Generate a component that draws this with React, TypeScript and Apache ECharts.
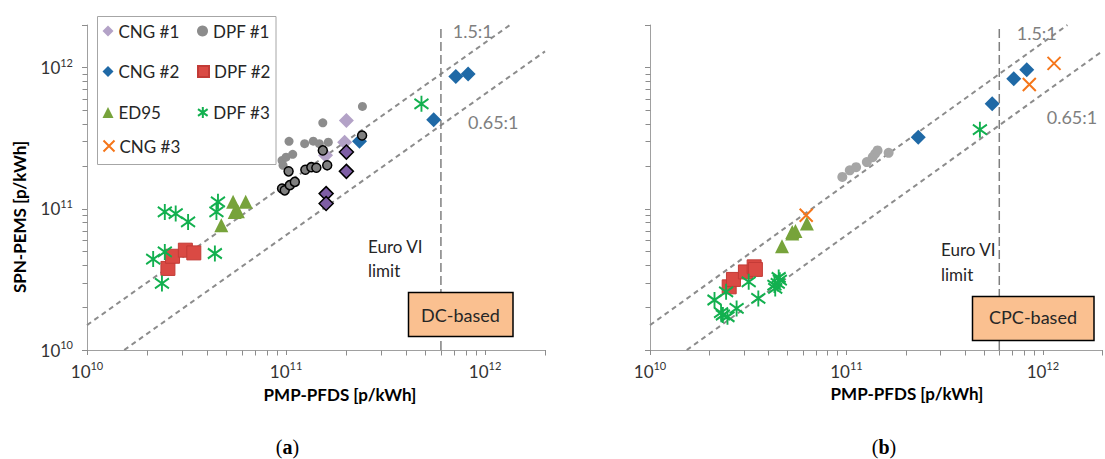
import React, { useEffect, useRef } from 'react';
import * as echarts from 'echarts';

// ---------- axis constants ----------
const AXIS_MIN = 1e10;
const AXIS_MAX = 2e12;
const decades = [1e10, 1e11, 1e12];
const minorMultipliers = [2, 3, 4, 5, 6, 7, 8, 9];
const ratioLines = [1.5, 0.65];
const ratioLabels = ['1.5:1', '0.65:1'];
const euroVILimit = 6e11;

// ---------- panel (a): DC-based ----------
const cng1LightA: [number, number][] = [[2.01e11, 4.22e11], [1.97e11, 2.96e11], [1.58e11, 2.39e11]];
const cng1DarkA: [number, number][] = [[2.01e11, 2.52e11], [2.01e11, 1.84e11], [1.59e11, 1.28e11], [1.59e11, 1.09e11]];
const cng2A: [number, number][] = [[2.34e11, 3.01e11], [5.52e11, 4.27e11], [7.13e11, 8.63e11], [8.22e11, 9.0e11]];
const ed95A: [number, number][] = [[5.42e10, 1.12e11], [6.27e10, 1.12e11], [5.52e10, 9.5e10], [5.73e10, 9.6e10], [4.73e10, 7.64e10]];
const dpf1LightA: [number, number][] = [
  [2.42e11, 5.3e11], [1.53e11, 4.06e11], [1.035e11, 3.0e11], [1.24e11, 2.89e11], [1.37e11, 3.01e11],
  [1.47e11, 2.89e11], [1.63e11, 2.96e11], [9.55e10, 2.2e11], [1.0e11, 2.32e11], [1.08e11, 2.43e11], [9.66e10, 2.03e11],
];
const dpf1DarkA: [number, number][] = [
  [1.53e11, 2.59e11], [1.03e11, 1.84e11], [1.25e11, 1.89e11], [1.34e11, 1.97e11], [1.42e11, 1.95e11],
  [1.61e11, 2.03e11], [9.55e10, 1.39e11], [9.85e10, 1.35e11], [1.045e11, 1.47e11], [1.107e11, 1.55e11], [2.41e11, 3.3e11],
];
const dpf2A: [number, number][] = [[2.55e10, 3.78e10], [2.69e10, 4.61e10], [3.12e10, 5.09e10], [3.44e10, 4.87e10]];
const dpf3A: [number, number][] = [
  [2.46e10, 9.5e10], [2.79e10, 9.25e10], [3.22e10, 8.07e10], [4.55e10, 1.12e11], [4.47e10, 9.5e10],
  [2.15e10, 4.4e10], [2.46e10, 4.95e10], [4.39e10, 4.82e10], [2.38e10, 2.96e10], [4.79e11, 5.53e11],
];

// ---------- panel (b): CPC-based ----------
const dpf1B: [number, number][] = [
  [9.53e10, 1.68e11], [1.04e11, 1.87e11], [1.12e11, 1.97e11], [1.27e11, 2.14e11],
  [1.36e11, 2.32e11], [1.40e11, 2.45e11], [1.44e11, 2.59e11], [1.64e11, 2.49e11],
];
const cng2B: [number, number][] = [[2.32e11, 3.21e11], [5.52e11, 5.53e11], [7.11e11, 8.32e11], [8.28e11, 9.64e11]];
const cng3B: [number, number][] = [[1.14e12, 1.07e12], [8.53e11, 7.58e11], [6.24e10, 9.0e10]];
const ed95B: [number, number][] = [[4.7e10, 5.43e10], [5.3e10, 6.85e10], [5.5e10, 6.97e10], [6.29e10, 7.85e10], [5.3e10, 6.67e10]];
const dpf2B: [number, number][] = [[2.53e10, 2.8e10], [2.66e10, 3.16e10], [3.06e10, 3.57e10], [3.39e10, 3.88e10], [3.44e10, 3.72e10]];
const dpf3B: [number, number][] = [
  [4.78e11, 3.63e11], [2.13e10, 2.26e10], [2.44e10, 2.58e10], [3.18e10, 3.04e10], [2.76e10, 1.97e10],
  [2.35e10, 1.77e10], [2.48e10, 1.72e10], [2.30e10, 1.84e10], [3.56e10, 2.32e10], [4.3e10, 2.88e10],
  [4.52e10, 3.26e10], [4.47e10, 2.96e10], [4.34e10, 2.73e10], [4.58e10, 3.12e10],
];

const legendNames = ['CNG #1', 'DPF #1', 'CNG #2', 'DPF #2', 'ED95', 'DPF #3', 'CNG #3'];

// ---------- styles ----------
const FONT = 'Lato';
const AXIS_COLOR = '#A0A0A0';
const TICK_COLOR = '#8C8C8C';
const TICK_LEN = 5;
const TEXT_COLOR = '#262626';
const C = {
  cng1Light: '#B3A2C7',
  cng1Dark: '#7E5EA5',
  cng2: '#1F69A6',
  ed95: '#77A33B',
  cng3: '#F5761A',
  dpf1A: '#8C8C8C',
  dpf1Dark: '#7F7F7F',
  dpf1B: '#A6A6A6',
  dpf2: '#DA4A44',
  dpf3: '#12B04F',
};
const ASTERISK = 'path://M7 0V16M0 3L14 13M14 3L0 13';
const XMARK = 'path://M0 0L12 12M12 0L0 12';

const minorTickValues: number[] = [];
decades.forEach((d) => minorMultipliers.forEach((m) => { if (d * m <= AXIS_MAX) minorTickValues.push(d * m); }));

function powLabel(v: number): string {
  const l = Math.log10(v);
  const e = Math.round(l);
  if (Math.abs(l - e) > 1e-6) return '';
  return `{b|10}{s|${e}}`;
}
const labelRich = {
  b: { fontSize: 17, fontFamily: FONT, color: '#333', lineHeight: 22 },
  s: { fontSize: 11, fontFamily: FONT, color: '#333', lineHeight: 14, verticalAlign: 'top' },
};

function axis(gi: number, showLabel: boolean, margin: number) {
  return {
    type: 'log', logBase: 10, gridIndex: gi, min: AXIS_MIN, max: AXIS_MAX,
    axisLine: { show: true, onZero: false, lineStyle: { color: AXIS_COLOR, width: 1 } },
    axisTick: { show: true, length: TICK_LEN, lineStyle: { color: TICK_COLOR, width: 1 } },
    minorTick: { show: false },
    splitLine: { show: false },
    axisLabel: { show: showLabel, margin, formatter: powLabel, rich: labelRich },
  };
}

// minor tick marks: short line segments placed through the axes' own log scale
function minorTicks(gi: number, dir: 'x' | 'y') {
  return {
    type: 'custom', xAxisIndex: gi, yAxisIndex: gi, silent: true, clip: false, z: 5,
    encode: { x: 0, y: 1 },
    data: minorTickValues.map((v) => (dir === 'x' ? [v, AXIS_MIN] : [AXIS_MIN, v])),
    renderItem: (_p: any, api: any) => {
      const p = api.coord([api.value(0), api.value(1)]);
      const x = Math.round(p[0]) + 0.5;
      const y = Math.round(p[1]) + 0.5;
      const shape = dir === 'x'
        ? { x1: x, y1: y, x2: x, y2: y + TICK_LEN }
        : { x1: x - TICK_LEN, y1: y, x2: x, y2: y };
      return { type: 'line', shape, style: { stroke: TICK_COLOR, lineWidth: 1 } };
    },
  };
}

function refLines(gi: number) {
  const out: any[] = ratioLines.map((r) => {
    const x0 = Math.max(AXIS_MIN, AXIS_MIN / r);
    const x1 = Math.min(AXIS_MAX, AXIS_MAX / r);
    return {
      type: 'line', xAxisIndex: gi, yAxisIndex: gi, silent: true, symbol: 'none', z: 1,
      data: [[x0, x0 * r], [x1, x1 * r]],
      lineStyle: { color: '#8C8C8C', width: 2, type: [5, 4] },
    };
  });
  out.push({
    type: 'line', xAxisIndex: gi, yAxisIndex: gi, silent: true, symbol: 'none', z: 1,
    data: [[euroVILimit, AXIS_MIN], [euroVILimit, AXIS_MAX]],
    lineStyle: { color: '#7F7F7F', width: 1.5, type: [9, 4] },
  });
  return out;
}

function sc(name: string, data: [number, number][], gi: number, symbol: string, size: any, itemStyle: any) {
  return {
    type: 'scatter', name, data, xAxisIndex: gi, yAxisIndex: gi, symbol, symbolSize: size,
    itemStyle: { opacity: 1, ...itemStyle }, silent: true, z: 3,
  };
}

const asteriskStyle = { color: 'rgba(0,0,0,0)', borderColor: C.dpf3, borderWidth: 2 };
const xStyle = { color: 'rgba(0,0,0,0)', borderColor: C.cng3, borderWidth: 2 };

const legendPos: Record<string, [number, number]> = {
  'CNG #1': [102.5, 31], 'DPF #1': [197, 31],
  'CNG #2': [102.5, 71.5], 'DPF #2': [197, 71.5],
  'ED95': [102.5, 112.5], 'DPF #3': [197, 112.5],
  'CNG #3': [102.5, 146],
};

function txt(x: number, y: number, text: string, color: string, size: number, align = 'left', extra: any = {}) {
  return {
    type: 'text', x, y, z: 101, silent: true, ...extra,
    style: { text, fill: color, font: `${extra.bold ? 'bold ' : ''}${size}px ${FONT}`, align, verticalAlign: 'middle' },
  };
}

export default function App() {
  const ref = useRef<HTMLDivElement>(null);
  useEffect(() => {
    if (!ref.current) return;
    const chart = echarts.init(ref.current, undefined, { renderer: 'svg' });
    const option: any = {
      animation: false,
      backgroundColor: '#fff',
      textStyle: { fontFamily: FONT },
      grid: [
        { left: 87, top: 25, width: 458, height: 325 },
        { left: 650, top: 25, width: 466, height: 325 },
      ],
      xAxis: [axis(0, true, 10), axis(1, true, 10)],
      yAxis: [axis(0, true, 14), axis(1, false, 14)],
      legend: legendNames.map((n) => ({
        data: [n], left: legendPos[n][0], top: legendPos[n][1] - 10, padding: 0, orient: 'vertical',
        itemWidth: 11, itemHeight: 11, selectedMode: false, z: 5,
        textStyle: { fontSize: 17, fontFamily: FONT, color: TEXT_COLOR, lineHeight: 20 },
      })),
      series: [
        minorTicks(0, 'x'), minorTicks(0, 'y'), minorTicks(1, 'x'), minorTicks(1, 'y'),
        ...refLines(0), ...refLines(1),
        // panel a
        sc('CNG #1', cng1LightA, 0, 'diamond', 15, { color: C.cng1Light }),
        sc('CNG #1', cng1DarkA, 0, 'diamond', 14, { color: C.cng1Dark, borderColor: '#000', borderWidth: 1.5 }),
        sc('CNG #2', cng2A, 0, 'diamond', 15, { color: C.cng2 }),
        sc('ED95', ed95A, 0, 'triangle', 14, { color: C.ed95 }),
        sc('DPF #1', dpf1LightA, 0, 'circle', 9, { color: C.dpf1A }),
        sc('DPF #1', dpf1DarkA, 0, 'circle', 9, { color: C.dpf1Dark, borderColor: '#000', borderWidth: 1.5 }),
        sc('DPF #2', dpf2A, 0, 'rect', 14, { color: C.dpf2, borderColor: '#C23B36', borderWidth: 1 }),
        sc('DPF #3', dpf3A, 0, ASTERISK, [14, 16], asteriskStyle),
        // panel b
        sc('CNG #2', cng2B, 1, 'diamond', 15, { color: C.cng2 }),
        sc('ED95', ed95B, 1, 'triangle', 14, { color: C.ed95 }),
        sc('CNG #3', cng3B, 1, XMARK, 13, xStyle),
        sc('DPF #1', dpf1B, 1, 'circle', 10, { color: C.dpf1B }),
        sc('DPF #2', dpf2B, 1, 'rect', 14, { color: C.dpf2, borderColor: '#C23B36', borderWidth: 1 }),
        sc('DPF #3', dpf3B, 1, ASTERISK, [14, 16], asteriskStyle),
      ],
      graphic: [
        { type: 'rect', z: 0, silent: true, shape: { x: 97.5, y: 16.5, width: 178.5, height: 148 }, style: { fill: '#fff', stroke: '#A6A6A6', lineWidth: 1 } },
        txt(452.7, 31, ratioLabels[0], '#7F7F7F', 18),
        txt(468, 121.7, ratioLabels[1], '#7F7F7F', 18),
        txt(368, 246.7, 'Euro VI', TEXT_COLOR, 17),
        txt(368, 270.7, 'limit', TEXT_COLOR, 17),
        { type: 'rect', z: 100, silent: true, shape: { x: 408.5, y: 292.5, width: 104.5, height: 44 }, style: { fill: '#FAC090', stroke: '#000', lineWidth: 1.5 } },
        txt(460.5, 314.5, 'DC-based', TEXT_COLOR, 18, 'center'),
        txt(1016.7, 33.3, ratioLabels[0], '#7F7F7F', 18),
        txt(1046.7, 116.7, ratioLabels[1], '#7F7F7F', 18),
        txt(941, 249.3, 'Euro VI', TEXT_COLOR, 17),
        txt(941, 274, 'limit', TEXT_COLOR, 17),
        { type: 'rect', z: 100, silent: true, shape: { x: 972.5, y: 296.5, width: 121.5, height: 44 }, style: { fill: '#FAC090', stroke: '#000', lineWidth: 1.5 } },
        txt(1033, 317, 'CPC-based', TEXT_COLOR, 18, 'center'),
        txt(19.6, 217, 'SPN-PEMS [p/kWh]', '#000', 17, 'center', { rotation: Math.PI / 2, bold: true }),
        txt(340, 394, 'PMP-PFDS [p/kWh]', '#000', 17, 'center', { bold: true }),
        txt(907, 393.5, 'PMP-PFDS [p/kWh]', '#000', 17, 'center', { bold: true }),
        {
          type: 'text', x: 287.5, y: 446.5, z: 101, silent: true,
          style: { text: '{n|(}{b|a}{n|)}', align: 'center', verticalAlign: 'middle',
            rich: { n: { font: '20px "Liberation Serif"', fill: '#000' }, b: { font: 'bold 20px "Liberation Serif"', fill: '#000' } } },
        },
        {
          type: 'text', x: 884, y: 446.5, z: 101, silent: true,
          style: { text: '{n|(}{b|b}{n|)}', align: 'center', verticalAlign: 'middle',
            rich: { n: { font: '20px "Liberation Serif"', fill: '#000' }, b: { font: 'bold 20px "Liberation Serif"', fill: '#000' } } },
        },
      ],
    };
    chart.setOption(option);
    return () => chart.dispose();
  }, []);
  return (
    <div
      ref={ref}
      style={{ position: 'absolute', left: 0, top: 0, width: 1105, height: 459, background: '#fff' }}
    />
  );
}
